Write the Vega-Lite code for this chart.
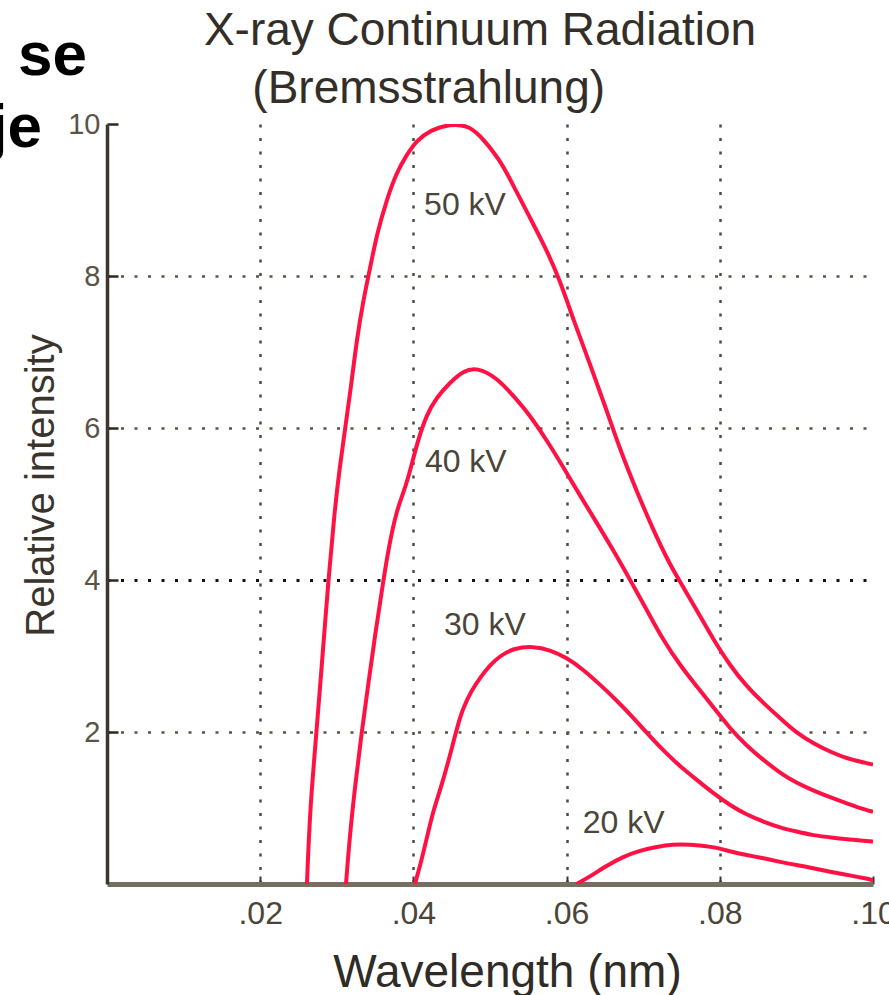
{
  "$schema": "https://vega.github.io/schema/vega-lite/v6.json",
  "width": 766,
  "height": 760,
  "autosize": {"type": "none"},
  "padding": {"left": 107, "top": 124, "right": 16, "bottom": 111},
  "background": "white",
  "config": {"font": "Liberation Sans", "view": {"stroke": null}},
  "datasets": {
    "curves": [
      {"kv": "50 kV", "x": 0.0261, "y": 0},
      {"kv": "50 kV", "x": 0.0265, "y": 0.97},
      {"kv": "50 kV", "x": 0.02715, "y": 1.76},
      {"kv": "50 kV", "x": 0.0281, "y": 2.95},
      {"kv": "50 kV", "x": 0.0288, "y": 3.87},
      {"kv": "50 kV", "x": 0.0297, "y": 4.9},
      {"kv": "50 kV", "x": 0.0304, "y": 5.5},
      {"kv": "50 kV", "x": 0.0311, "y": 6.0},
      {"kv": "50 kV", "x": 0.0318, "y": 6.5},
      {"kv": "50 kV", "x": 0.0326, "y": 7.16},
      {"kv": "50 kV", "x": 0.03346, "y": 7.68},
      {"kv": "50 kV", "x": 0.0343, "y": 8.08},
      {"kv": "50 kV", "x": 0.0352, "y": 8.54},
      {"kv": "50 kV", "x": 0.0365, "y": 9.0},
      {"kv": "50 kV", "x": 0.0378, "y": 9.36},
      {"kv": "50 kV", "x": 0.0391, "y": 9.59},
      {"kv": "50 kV", "x": 0.0404, "y": 9.78},
      {"kv": "50 kV", "x": 0.0422, "y": 9.92},
      {"kv": "50 kV", "x": 0.0448, "y": 10.0},
      {"kv": "50 kV", "x": 0.047, "y": 9.98},
      {"kv": "50 kV", "x": 0.0485, "y": 9.88},
      {"kv": "50 kV", "x": 0.0513, "y": 9.53},
      {"kv": "50 kV", "x": 0.053, "y": 9.2},
      {"kv": "50 kV", "x": 0.0552, "y": 8.77},
      {"kv": "50 kV", "x": 0.0574, "y": 8.34},
      {"kv": "50 kV", "x": 0.0591, "y": 7.95},
      {"kv": "50 kV", "x": 0.0609, "y": 7.42},
      {"kv": "50 kV", "x": 0.0631, "y": 6.83},
      {"kv": "50 kV", "x": 0.0652, "y": 6.24},
      {"kv": "50 kV", "x": 0.067, "y": 5.71},
      {"kv": "50 kV", "x": 0.0691, "y": 5.18},
      {"kv": "50 kV", "x": 0.0713, "y": 4.66},
      {"kv": "50 kV", "x": 0.0735, "y": 4.2},
      {"kv": "50 kV", "x": 0.0748, "y": 3.98},
      {"kv": "50 kV", "x": 0.077, "y": 3.6},
      {"kv": "50 kV", "x": 0.0792, "y": 3.21},
      {"kv": "50 kV", "x": 0.0813, "y": 2.88},
      {"kv": "50 kV", "x": 0.0835, "y": 2.6},
      {"kv": "50 kV", "x": 0.0857, "y": 2.38},
      {"kv": "50 kV", "x": 0.0879, "y": 2.18},
      {"kv": "50 kV", "x": 0.09, "y": 1.99},
      {"kv": "50 kV", "x": 0.0922, "y": 1.85},
      {"kv": "50 kV", "x": 0.0944, "y": 1.74},
      {"kv": "50 kV", "x": 0.0966, "y": 1.65},
      {"kv": "50 kV", "x": 0.0992, "y": 1.59},
      {"kv": "50 kV", "x": 0.1, "y": 1.57},
      {"kv": "40 kV", "x": 0.0312, "y": 0},
      {"kv": "40 kV", "x": 0.0317, "y": 0.64},
      {"kv": "40 kV", "x": 0.0324, "y": 1.3},
      {"kv": "40 kV", "x": 0.0332, "y": 1.96},
      {"kv": "40 kV", "x": 0.0341, "y": 2.62},
      {"kv": "40 kV", "x": 0.035, "y": 3.28},
      {"kv": "40 kV", "x": 0.0359, "y": 3.87},
      {"kv": "40 kV", "x": 0.0367, "y": 4.39},
      {"kv": "40 kV", "x": 0.0378, "y": 4.92},
      {"kv": "40 kV", "x": 0.0389, "y": 5.2},
      {"kv": "40 kV", "x": 0.0396, "y": 5.45},
      {"kv": "40 kV", "x": 0.0406, "y": 5.84},
      {"kv": "40 kV", "x": 0.0417, "y": 6.17},
      {"kv": "40 kV", "x": 0.043, "y": 6.4},
      {"kv": "40 kV", "x": 0.0448, "y": 6.6},
      {"kv": "40 kV", "x": 0.0465, "y": 6.75},
      {"kv": "40 kV", "x": 0.0483, "y": 6.8},
      {"kv": "40 kV", "x": 0.0509, "y": 6.66},
      {"kv": "40 kV", "x": 0.053, "y": 6.43},
      {"kv": "40 kV", "x": 0.0552, "y": 6.17},
      {"kv": "40 kV", "x": 0.0574, "y": 5.84},
      {"kv": "40 kV", "x": 0.0596, "y": 5.48},
      {"kv": "40 kV", "x": 0.0617, "y": 5.12},
      {"kv": "40 kV", "x": 0.0639, "y": 4.76},
      {"kv": "40 kV", "x": 0.0661, "y": 4.39},
      {"kv": "40 kV", "x": 0.0683, "y": 4.0},
      {"kv": "40 kV", "x": 0.0705, "y": 3.6},
      {"kv": "40 kV", "x": 0.0726, "y": 3.21},
      {"kv": "40 kV", "x": 0.0748, "y": 2.88},
      {"kv": "40 kV", "x": 0.077, "y": 2.6},
      {"kv": "40 kV", "x": 0.0792, "y": 2.32},
      {"kv": "40 kV", "x": 0.0813, "y": 2.05},
      {"kv": "40 kV", "x": 0.0835, "y": 1.82},
      {"kv": "40 kV", "x": 0.0857, "y": 1.63},
      {"kv": "40 kV", "x": 0.0879, "y": 1.46},
      {"kv": "40 kV", "x": 0.09, "y": 1.33},
      {"kv": "40 kV", "x": 0.0922, "y": 1.23},
      {"kv": "40 kV", "x": 0.0944, "y": 1.14},
      {"kv": "40 kV", "x": 0.0966, "y": 1.06},
      {"kv": "40 kV", "x": 0.0992, "y": 0.97},
      {"kv": "40 kV", "x": 0.1, "y": 0.95},
      {"kv": "30 kV", "x": 0.0402, "y": 0},
      {"kv": "30 kV", "x": 0.0409, "y": 0.25},
      {"kv": "30 kV", "x": 0.0417, "y": 0.58},
      {"kv": "30 kV", "x": 0.0426, "y": 0.97},
      {"kv": "30 kV", "x": 0.0437, "y": 1.3},
      {"kv": "30 kV", "x": 0.0448, "y": 1.7},
      {"kv": "30 kV", "x": 0.0457, "y": 2.06},
      {"kv": "30 kV", "x": 0.0465, "y": 2.32},
      {"kv": "30 kV", "x": 0.0476, "y": 2.55},
      {"kv": "30 kV", "x": 0.0489, "y": 2.74},
      {"kv": "30 kV", "x": 0.05, "y": 2.88},
      {"kv": "30 kV", "x": 0.0513, "y": 3.0},
      {"kv": "30 kV", "x": 0.053, "y": 3.1},
      {"kv": "30 kV", "x": 0.0557, "y": 3.13},
      {"kv": "30 kV", "x": 0.0578, "y": 3.08},
      {"kv": "30 kV", "x": 0.06, "y": 2.98},
      {"kv": "30 kV", "x": 0.0622, "y": 2.82},
      {"kv": "30 kV", "x": 0.0644, "y": 2.62},
      {"kv": "30 kV", "x": 0.0665, "y": 2.42},
      {"kv": "30 kV", "x": 0.0687, "y": 2.19},
      {"kv": "30 kV", "x": 0.0709, "y": 1.94},
      {"kv": "30 kV", "x": 0.0731, "y": 1.71},
      {"kv": "30 kV", "x": 0.0748, "y": 1.55},
      {"kv": "30 kV", "x": 0.077, "y": 1.37},
      {"kv": "30 kV", "x": 0.0792, "y": 1.19},
      {"kv": "30 kV", "x": 0.0813, "y": 1.04},
      {"kv": "30 kV", "x": 0.0835, "y": 0.91},
      {"kv": "30 kV", "x": 0.0857, "y": 0.82},
      {"kv": "30 kV", "x": 0.0879, "y": 0.74},
      {"kv": "30 kV", "x": 0.09, "y": 0.69},
      {"kv": "30 kV", "x": 0.0922, "y": 0.64},
      {"kv": "30 kV", "x": 0.0948, "y": 0.61},
      {"kv": "30 kV", "x": 0.0974, "y": 0.58},
      {"kv": "30 kV", "x": 0.1, "y": 0.56},
      {"kv": "20 kV", "x": 0.0613, "y": 0},
      {"kv": "20 kV", "x": 0.0631, "y": 0.1},
      {"kv": "20 kV", "x": 0.0652, "y": 0.24},
      {"kv": "20 kV", "x": 0.0674, "y": 0.36},
      {"kv": "20 kV", "x": 0.0696, "y": 0.44},
      {"kv": "20 kV", "x": 0.0718, "y": 0.49},
      {"kv": "20 kV", "x": 0.0739, "y": 0.52},
      {"kv": "20 kV", "x": 0.076, "y": 0.52},
      {"kv": "20 kV", "x": 0.0792, "y": 0.49},
      {"kv": "20 kV", "x": 0.0813, "y": 0.43},
      {"kv": "20 kV", "x": 0.0835, "y": 0.38},
      {"kv": "20 kV", "x": 0.0857, "y": 0.34},
      {"kv": "20 kV", "x": 0.0879, "y": 0.29},
      {"kv": "20 kV", "x": 0.09, "y": 0.25},
      {"kv": "20 kV", "x": 0.0922, "y": 0.21},
      {"kv": "20 kV", "x": 0.0944, "y": 0.16},
      {"kv": "20 kV", "x": 0.0966, "y": 0.12},
      {"kv": "20 kV", "x": 0.0992, "y": 0.07},
      {"kv": "20 kV", "x": 0.1, "y": 0.05}
    ],
    "curveLabels": [
      {"label": "50 kV", "x": 0.0414, "y": 8.8},
      {"label": "40 kV", "x": 0.0415, "y": 5.42},
      {"label": "30 kV", "x": 0.044, "y": 3.28},
      {"label": "20 kV", "x": 0.0621, "y": 0.67}
    ],
    "titleLines": [
      {"text": "X-ray Continuum Radiation", "x": 0.0487, "y": 11.04},
      {"text": "(Bremsstrahlung)", "x": 0.042, "y": 10.28}
    ],
    "fragments": [
      {"text": "se", "x": -0.0026, "y": 10.645},
      {"text": "je", "x": -0.0085, "y": 9.697}
    ]
  },
  "layer": [
    {
      "data": {"name": "curves"},
      "mark": {"type": "line", "color": "#ff1144", "strokeWidth": 4, "interpolate": "basis", "clip": true},
      "encoding": {
        "x": {
          "field": "x", "type": "quantitative",
          "scale": {"domain": [0, 0.1], "nice": false, "zero": false},
          "axis": {
            "title": "Wavelength (nm)",
            "values": [0.02, 0.04, 0.06, 0.08, 0.1],
            "labelExpr": "substring(format(datum.value, '.2f'), 1)",
            "labelFontSize": 32,
            "labelColor": "#4a4538",
            "labelPadding": 22,
            "labelFlush": false,
            "labelOverlap": false,
            "ticks": true,
            "tickSize": -8,
            "tickWidth": 2,
            "tickColor": "#3a342c",
            "domainColor": "#766f5f",
            "domainWidth": 5,
            "grid": true,
            "gridColor": "#4f493e",
            "gridDash": [3, 10.5],
            "gridWidth": 2.5,
            "gridOpacity": {"condition": {"test": "datum.value > 0.09", "value": 0}, "value": 1},
            "titleFontSize": 46,
            "titleFontWeight": "normal",
            "titleColor": "#2f2b25",
            "titleX": 400,
            "titleY": 102,
            "titleBaseline": "alphabetic",
            "titleAlign": "center"
          }
        },
        "y": {
          "field": "y", "type": "quantitative",
          "scale": {"domain": [0, 10], "nice": false},
          "axis": {
            "title": "Relative intensity",
            "values": [2, 4, 6, 8, 10],
            "format": "d",
            "labelFontSize": 29,
            "labelColor": "#5a5446",
            "labelPadding": 18,
            "ticks": true,
            "tickSize": -11,
            "tickWidth": 2.5,
            "tickColor": "#2e2822",
            "domainColor": "#3f3630",
            "domainWidth": 3.5,
            "grid": true,
            "gridColor": {"condition": {"test": "datum.value === 4", "value": "#151311"}, "value": "#5a5446"},
            "gridDash": [3, 10.5],
            "gridWidth": {"condition": {"test": "datum.value === 4", "value": 3}, "value": 2.5},
            "gridOpacity": {"condition": {"test": "datum.value > 9", "value": 0}, "value": 1},
            "titleFontSize": 40,
            "titleFontWeight": "normal",
            "titleColor": "#3a352c",
            "titleAngle": -90,
            "titleX": -54,
            "titleY": 361,
            "titleBaseline": "alphabetic",
            "titleAlign": "center"
          }
        },
        "detail": {"field": "kv"}
      }
    },
    {
      "data": {"name": "curveLabels"},
      "mark": {"type": "text", "align": "left", "baseline": "alphabetic", "fontSize": 32, "color": "#4a4538"},
      "encoding": {
        "x": {"field": "x", "type": "quantitative", "scale": {"domain": [0, 0.1], "nice": false, "zero": false}},
        "y": {"field": "y", "type": "quantitative", "scale": {"domain": [0, 10], "nice": false}},
        "text": {"field": "label"}
      }
    },
    {
      "data": {"name": "titleLines"},
      "mark": {"type": "text", "align": "center", "baseline": "alphabetic", "fontSize": 46, "color": "#332f28"},
      "encoding": {
        "x": {"field": "x", "type": "quantitative", "scale": {"domain": [0, 0.1], "nice": false, "zero": false}},
        "y": {"field": "y", "type": "quantitative", "scale": {"domain": [0, 10], "nice": false}},
        "text": {"field": "text"}
      }
    },
    {
      "data": {"name": "fragments"},
      "mark": {"type": "text", "align": "right", "baseline": "alphabetic", "fontSize": 62, "fontWeight": "bold", "color": "#000000"},
      "encoding": {
        "x": {"field": "x", "type": "quantitative", "scale": {"domain": [0, 0.1], "nice": false, "zero": false}},
        "y": {"field": "y", "type": "quantitative", "scale": {"domain": [0, 10], "nice": false}},
        "text": {"field": "text"}
      }
    }
  ]
}
